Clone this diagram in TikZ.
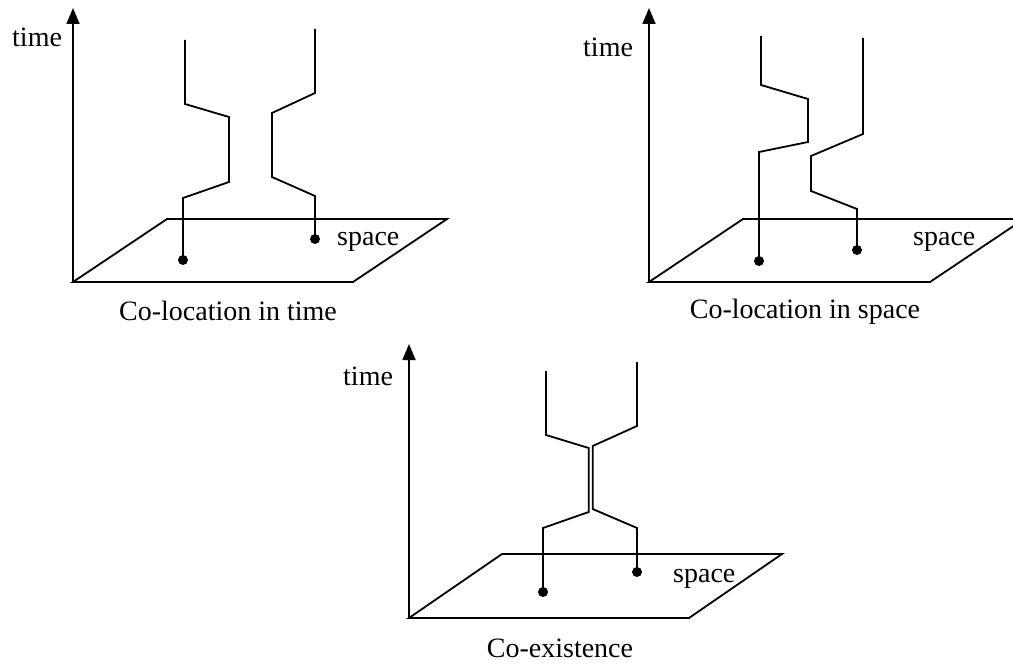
\documentclass[tikz,border=0pt]{standalone}
\usepackage{fontspec}
\setmainfont{Liberation Serif}
\usetikzlibrary{arrows.meta}
\begin{document}
\begin{tikzpicture}[x=1pt,y=-1pt,
  ln/.style={line width=1.8pt,line join=miter},
  axis/.style={line width=1.8pt,-{Triangle[width=13pt,length=16pt]}},
  dot/.style={circle,fill=black,inner sep=0pt,minimum size=10pt},
  lbl/.style={inner sep=0pt,anchor=base west,font=\fontsize{28}{34}\selectfont},
  captxt/.style={inner sep=0pt,anchor=base,font=\fontsize{28}{34}\selectfont}]
\useasboundingbox (0,0) rectangle (1013,666);
% ---------- Panel 1 ----------
\coordinate (o1) at (73,282);
\coordinate (t1) at (73,8);
\draw[axis] (o1) -- (t1);
\draw[ln] (o1) -- (353,282) -- (447,219) -- (167,219) -- cycle;
\node[lbl] (time1) at (12,47) {time};
\node[lbl] (space1) at (337,245) {space};
\node[captxt] (cap1) at (228,320) {Co-location in time};
\node[dot] (a1) at (183,260) {};
\node[dot] (b1) at (315,239) {};
\draw[ln] (a1.center) -- (183,198) -- (229,182) -- (229,117) -- (185,104) -- (185,40);
\draw[ln] (b1.center) -- (315,196) -- (272,177) -- (272,113) -- (315,93) -- (315,29);
% ---------- Panel 2 ----------
\coordinate (o2) at (649,282);
\coordinate (t2) at (649,8);
\draw[axis] (o2) -- (t2);
\draw[ln] (o2) -- (930,282) -- (1024,219) -- (743,219) -- cycle;
\node[lbl] (time2) at (583,57) {time};
\node[lbl] (space2) at (913,245) {space};
\node[captxt] (cap2) at (805,318) {Co-location in space};
\node[dot] (a2) at (759,261) {};
\node[dot] (b2) at (857,250) {};
\draw[ln] (a2.center) -- (759,152) -- (808,142) -- (808,99) -- (761,85) -- (761,36);
\draw[ln] (b2.center) -- (857,209) -- (811,191) -- (811,156) -- (863,134) -- (863,38);
% ---------- Panel 3 ----------
\coordinate (o3) at (409,618);
\coordinate (t3) at (409,344);
\draw[axis] (o3) -- (t3);
\draw[ln] (o3) -- (689,618) -- (782,554) -- (502,554) -- cycle;
\node[lbl] (time3) at (343,385) {time};
\node[lbl] (space3) at (673,582) {space};
\node[captxt] (cap3) at (560,657) {Co-existence};
\node[dot] (a3) at (543,592) {};
\node[dot] (b3) at (637,572) {};
\draw[ln] (a3.center) -- (543,528) -- (588.7,512) -- (588.7,448) -- (546,435) -- (546,371);
\draw[ln] (b3.center) -- (637,528) -- (592.7,509) -- (592.7,446) -- (637,426) -- (637,362);
\end{tikzpicture}
\end{document}
